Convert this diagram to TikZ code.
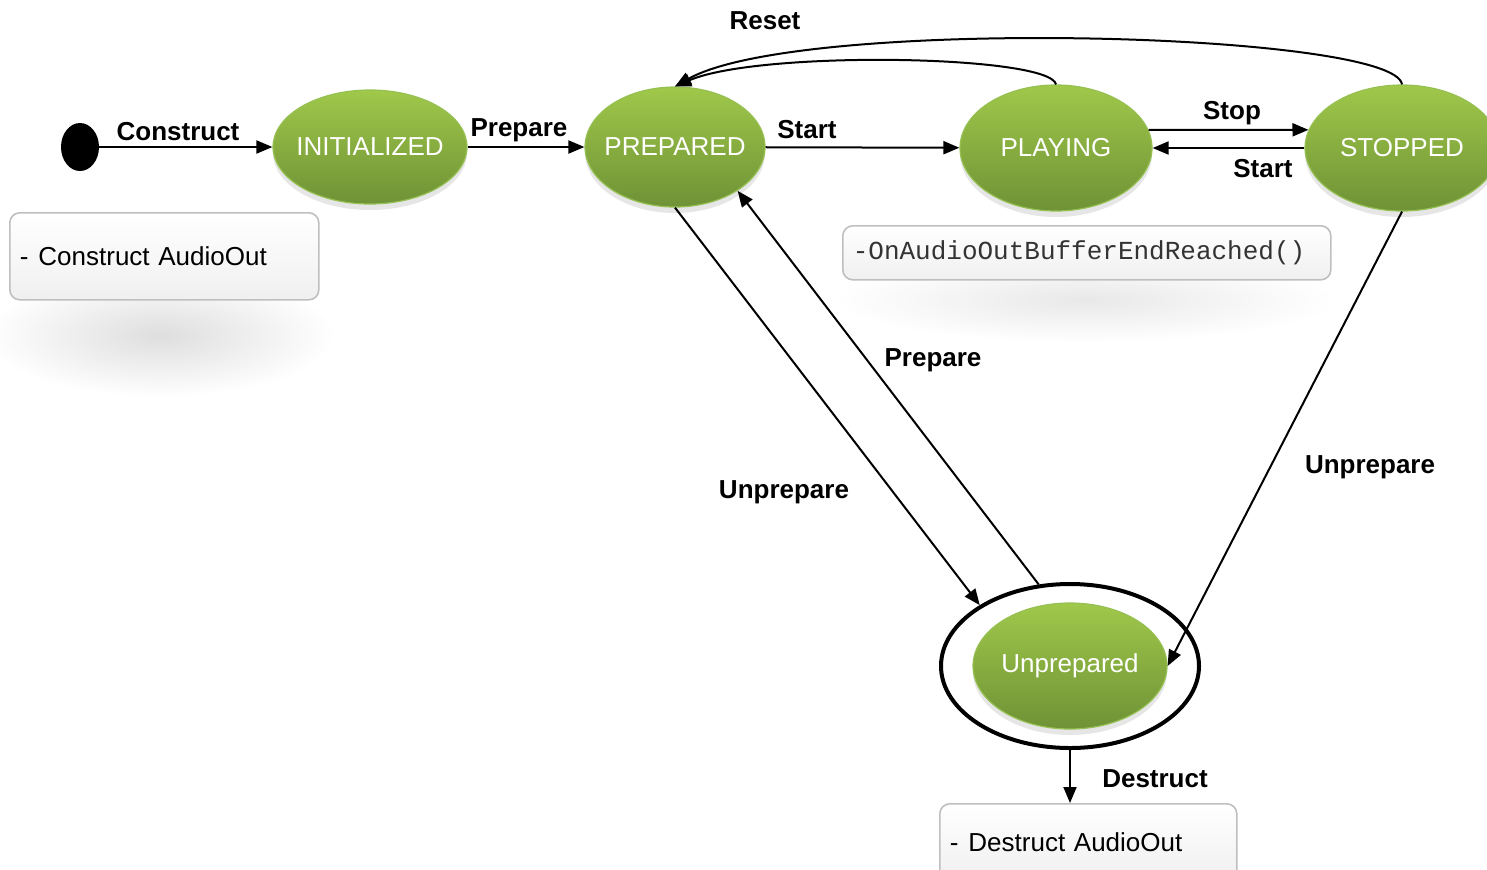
\documentclass[tikz,border=0pt]{standalone}
\usepackage{fontspec}
\setmainfont{Liberation Sans}
\setmonofont{Liberation Mono}
\usetikzlibrary{positioning,shapes.geometric,arrows.meta,shadows}

\definecolor{StateTop}{RGB}{160,200,74}
\definecolor{StateBottom}{RGB}{110,146,54}
\definecolor{StateBorder}{RGB}{150,192,82}

\begin{document}
\begin{tikzpicture}[x=0.5pt,y=-0.5pt]
  \tikzset{StateStyle/.style = {
    shape         = ellipse,
    draw          = StateBorder,
    line width    = 0.6pt,
    top color     = StateTop,
    bottom color  = StateBottom,
    inner sep     = 0pt,
    drop shadow   = {opacity=0.2, shadow xshift=0pt, shadow yshift=-3pt},
    label         = {[StateTextStyle]center:#1}
    }
  }
  \tikzset{StateTextStyle/.style = {
    text          = white,
    inner sep     = 0pt,
    font          = \fontsize{13}{15}\selectfont
    }
  }
  \tikzset{NoteStyle/.style = {
    shape         = rectangle,
    rounded corners = 5pt,
    draw          = black!25,
    line width    = 0.8pt,
    top color     = white,
    bottom color  = black!6,
    inner xsep    = 5pt,
    align         = left,
    anchor        = north west,
    font          = \fontsize{13}{15}\selectfont
    }
  }
  \tikzset{EdgeStyle/.style = {
    draw          = black,
    line width    = 1pt,
    -{Triangle[length=8pt,width=6.5pt]}
    }
  }
  \tikzset{EdgeLabelStyle/.style = {
    inner sep     = 0pt,
    anchor        = base,
    font          = \bfseries\fontsize{13}{15}\selectfont
    }
  }

  \useasboundingbox (0,0) rectangle (1487,869);

  \shade[inner color=black!13, outer color=white] (160,335) ellipse [x radius=175, y radius=62];
  \shade[inner color=black!9, outer color=white] (1085,300) ellipse [x radius=250, y radius=42];

  \node[shape=ellipse, fill=black, inner sep=0pt, minimum width=19pt, minimum height=24pt] (Start) at (80,147) {};
  \node[StateStyle=INITIALIZED, minimum width=97pt, minimum height=57pt] (Initialized) at (370,147) {};
  \node[StateStyle=PREPARED, minimum width=90pt, minimum height=60pt] (Prepared) at (675,147) {};
  \node[StateStyle=PLAYING, minimum width=96pt, minimum height=63pt] (Playing) at (1056,148) {};
  \node[StateStyle=STOPPED, minimum width=97pt, minimum height=63pt] (Stopped) at (1402,148) {};
  \node[StateStyle=Unprepared, minimum width=97pt, minimum height=63pt] (Unprepared) at (1070,666) {};
  \node[shape=ellipse, draw=black, line width=2pt, minimum width=129pt, minimum height=82pt] (UnpreparedRing) at (1070,666) {};

  \node[NoteStyle, text width=144.5pt, minimum height=43.5pt] (InitNote) at (9,212) {-\hspace{5pt}Construct AudioOut};
  \node[NoteStyle, text width=234pt, minimum height=27pt, text=black!80] (PlayNote) at (842,225) {\ttfamily -OnAudioOutBufferEndReached()};
  \node[NoteStyle, text width=138.5pt, minimum height=38pt] (DestructNote) at (939,803) {-\hspace{5pt}Destruct AudioOut};

  \draw[EdgeStyle] (Start) -- (Initialized);
  \draw[EdgeStyle] (Initialized) -- (Prepared);
  \draw[EdgeStyle] (Prepared) -- (Playing);
  \draw[EdgeStyle] (Playing.11) -- (Stopped.169);
  \draw[EdgeStyle] (Stopped) -- (Playing);
  \draw[EdgeStyle] (Playing.north) .. controls (1050,55) and (760,50) .. (Prepared.north);
  \draw[EdgeStyle] (Stopped.north) .. controls (1395,32) and (800,16) .. (Prepared.north);
  \draw[EdgeStyle] (Prepared.south) -- (UnpreparedRing.146);
  \draw[EdgeStyle] (UnpreparedRing.111) -- (Prepared.325);
  \draw[EdgeStyle] (Stopped.south) -- (Unprepared.east);
  \draw[EdgeStyle] (UnpreparedRing.south) -- (UnpreparedRing.south |- DestructNote.north);

  \node[EdgeLabelStyle] (lblConstruct) at (178,140) {Construct};
  \node[EdgeLabelStyle] (lblPrepare) at (519,136) {Prepare};
  \node[EdgeLabelStyle] (lblStart) at (807,138) {Start};
  \node[EdgeLabelStyle] (lblReset) at (765,29) {Reset};
  \node[EdgeLabelStyle] (lblStop) at (1232,119) {Stop};
  \node[EdgeLabelStyle] (lblRestart) at (1263,177) {Start};
  \node[EdgeLabelStyle] (lblPrepareBack) at (933,366) {Prepare};
  \node[EdgeLabelStyle] (lblUnprepare) at (784,498) {Unprepare};
  \node[EdgeLabelStyle] (lblUnprepareStop) at (1370,473) {Unprepare};
  \node[EdgeLabelStyle] (lblDestruct) at (1155,787) {Destruct};
\end{tikzpicture}
\end{document}
